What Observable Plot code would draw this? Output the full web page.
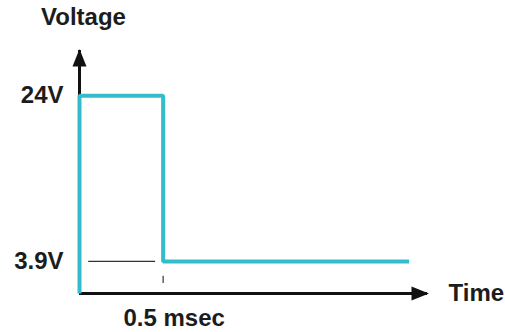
<!DOCTYPE html>
<html>
<head>
<meta charset="utf-8">
<script src="https://cdn.jsdelivr.net/npm/d3@7"></script>
<script src="https://cdn.jsdelivr.net/npm/@observablehq/plot@0.6"></script>
<style>
  html, body { margin: 0; padding: 0; background: #fff; }
  svg { display: block; }
</style>
</head>
<body>
<div id="chart"></div>
<script>
// Pulse waveform (time in msec, voltage in V)
const time = [0, 0, 0.5, 0.5, 1.97];
const voltage = [0, 24, 24, 3.9, 3.9];

// Axis labels / ticks
const yTickValues = [24, 3.9];
const yTickLabels = ["24V", "3.9V"];
const xTickValues = [0.5];
const xTickLabels = ["0.5 msec"];
const xTitle = "Time";
const yTitle = "Voltage";
const xMax = 2.08;
const yMax = 29.5;

// Dimension marker at 3.9 V level (start / end time) and small tick below 0.5 msec
const markerStart = [0.055];
const markerEnd = [0.455];
const tickLow = [1.2];
const tickHigh = [2.1];

const pulse = time.map((t, i) => ({t, v: voltage[i]}));

const arrowUp = {draw(ctx) { ctx.moveTo(0, -1.5); ctx.lineTo(7, 16); ctx.lineTo(-7, 16); ctx.closePath(); }};
const arrowRight = {draw(ctx) { ctx.moveTo(1.5, 0); ctx.lineTo(-16, 7); ctx.lineTo(-16, -7); ctx.closePath(); }};

const font = "Arial, 'Liberation Sans', sans-serif";
const ink = "#1c1c1c";

const chart = Plot.plot({
  width: 505,
  height: 332,
  marginLeft: 79,
  marginRight: 78,
  marginTop: 50,
  marginBottom: 39,
  x: {domain: [0, xMax], axis: null},
  y: {domain: [0, yMax], axis: null},
  style: {fontFamily: font, background: "#fff"},
  marks: [
    // axes
    Plot.ruleY([0], {x1: 0, x2: xMax, stroke: "#111", strokeWidth: 3, strokeLinecap: "butt"}),
    Plot.ruleX([0], {y1: 0, y2: yMax, stroke: "#111", strokeWidth: 3, strokeLinecap: "butt"}),
    Plot.dot([yMax], {x: 0, y: d => d, symbol: arrowUp, fill: "#111", stroke: "none"}),
    Plot.dot([xMax], {x: d => d, y: 0, symbol: arrowRight, fill: "#111", stroke: "none"}),
    // dimension marker
    Plot.ruleY([3.9], {x1: () => markerStart[0], x2: () => markerEnd[0], stroke: "#333", strokeWidth: 1.3}),
    Plot.ruleX(xTickValues, {y1: () => tickLow[0], y2: () => tickHigh[0], stroke: "#444", strokeWidth: 1.3}),
    // pulse
    Plot.line(pulse, {x: "t", y: "v", stroke: "#33bdcc", strokeWidth: 4, strokeLinejoin: "miter", strokeLinecap: "butt"}),
    // labels
    Plot.text(yTickValues, {x: 0, y: d => d, text: (d, i) => yTickLabels[i], textAnchor: "end", dx: -16, fontSize: 24, fontWeight: "bold", fill: ink}),
    Plot.text(xTickValues, {x: d => d, y: 0, text: (d, i) => xTickLabels[i], textAnchor: "middle", dx: 11, dy: 25, fontSize: 24, fontWeight: "bold", fill: ink}),
    Plot.text([xTitle], {x: xMax, y: 0, text: d => d, textAnchor: "start", dx: 21, dy: 0, fontSize: 24, fontWeight: "bold", fill: ink}),
    Plot.text([yTitle], {x: 0, y: yMax, text: d => d, textAnchor: "middle", dx: 4, dy: -33, fontSize: 24, fontWeight: "bold", fill: ink})
  ]
});
document.getElementById("chart").appendChild(chart);
</script>
</body>
</html>
